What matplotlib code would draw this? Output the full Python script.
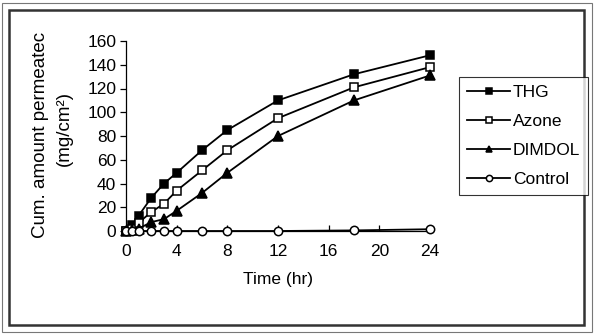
import matplotlib.pyplot as plt
from matplotlib.patches import Rectangle

plt.rcParams['font.family'] = ['Liberation Sans', 'DejaVu Sans']

# sampling times (hr)
time_hr = [0, 0.5, 1, 2, 3, 4, 6, 8, 12, 18, 24]

# cumulative amount permeated (mg/cm2)
thg = [0, 5, 13, 28, 40, 49, 68, 85, 110, 132, 148]
azone = [0, 2, 7, 16, 23, 34, 51, 68, 95, 121, 138]
dimdol = [0, 1, 2, 7.5, 10, 17, 32, 49, 80, 110, 131]
control = [0, 0, 0, 0, 0, 0, 0, 0, 0, 0.5, 1.5]

series = [
    ('THG', thg, 's', 'black'),
    ('Azone', azone, 's', 'white'),
    ('DIMDOL', dimdol, '^', 'black'),
    ('Control', control, 'o', 'white'),
]

fs = 12.5

fig = plt.figure(figsize=(5.95, 3.34), dpi=100)

# double frame around the whole chart
fig.patches.append(Rectangle((2 / 595, 2 / 334), 590 / 595, 329 / 334,
                             transform=fig.transFigure, fill=False,
                             edgecolor='#777777', linewidth=0.8))
fig.patches.append(Rectangle((8.5 / 595, 9.5 / 334), 575 / 595, 315 / 334,
                             transform=fig.transFigure, fill=False,
                             edgecolor='#333333', linewidth=1.8))

ax = fig.add_axes([126 / 595, 103 / 334, 304 / 595, 190 / 334])

for name, vals, mk, fc in series:
    ax.plot(time_hr, vals, color='black', linewidth=1.3, marker=mk,
            markersize=6 if mk != '^' else 6.5, markerfacecolor=fc,
            markeredgecolor='black', markeredgewidth=1.1,
            label=name, clip_on=False, zorder=3)

ax.set_xlim(0, 24)
ax.set_ylim(0, 160)
ax.set_xticks(range(0, 25, 4))
ax.set_yticks(range(0, 161, 20))
ax.spines['top'].set_visible(False)
ax.spines['right'].set_visible(False)
ax.spines['left'].set_linewidth(0.9)
ax.spines['bottom'].set_linewidth(0.9)
ax.tick_params(axis='y', direction='out', length=4, width=0.9,
               labelsize=fs, pad=3)
ax.tick_params(axis='x', direction='in', length=4, width=0.9,
               labelsize=fs, pad=9)

ax.set_xlabel('Time (hr)', fontsize=fs, labelpad=10)
fig.text(41 / 595, 1 - 135 / 334, 'Cum. amount permeatec', rotation=90,
         ha='center', va='center', fontsize=13.5)
fig.text(64 / 595, 1 - 128 / 334, '(mg/cm²)', rotation=90,
         ha='center', va='center', fontsize=13.5)

leg = fig.legend(loc='upper left', bbox_to_anchor=(459 / 595, 1 - 77 / 334),
                 frameon=True, fancybox=False, fontsize=fs,
                 handlelength=2.5, handletextpad=0.15, labelspacing=0.8,
                 borderpad=0.45, borderaxespad=0, markerscale=0.75)
leg.get_frame().set_edgecolor('black')
leg.get_frame().set_linewidth(0.8)

fig.savefig('out.png', dpi=100)
